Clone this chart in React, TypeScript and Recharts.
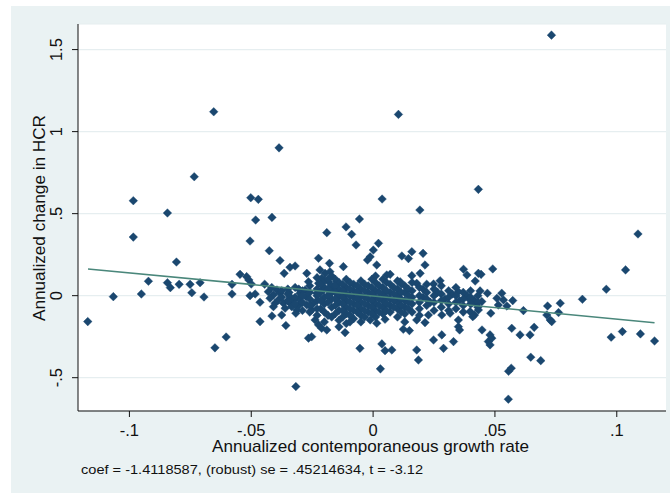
import React from 'react';
import { ScatterChart, Scatter, XAxis, YAxis, CartesianGrid, Label } from 'recharts';

// x: annualized contemporaneous growth rate, y: annualized change in HCR
const outlierPoints: [number, number][] = [
  [-0.0654, 1.121], [-0.0386, 0.901], [0.0104, 1.105], [0.0732, 1.588], [0.0432, 0.648],
  [0.0037, 0.589], [0.0192, 0.522], [-0.0056, 0.467], [-0.0734, 0.725], [-0.0984, 0.579],
  [-0.0844, 0.504], [-0.0984, 0.357], [-0.0502, 0.597], [-0.0471, 0.587], [-0.0482, 0.461],
  [-0.0415, 0.477], [-0.0505, 0.333], [-0.0426, 0.274], [-0.0317, -0.554], [0.0555, -0.631],
  [0.0556, -0.461], [0.0567, -0.442], [0.003, -0.446], [0.1087, 0.376], [0.1036, 0.157],
  [0.0957, 0.039], [0.0859, -0.022], [0.0977, -0.253], [0.1023, -0.219], [0.1097, -0.233],
  [0.1155, -0.276], [0.0688, -0.396], [0.0647, -0.375],
];

const leftPoints: [number, number][] = [
  [-0.1171, -0.158], [-0.1066, -0.006], [-0.0951, 0.010], [-0.0922, 0.088], [-0.0844, 0.079],
  [-0.0832, 0.049], [-0.0807, 0.205], [-0.0796, 0.069], [-0.0751, 0.069], [-0.0744, 0.018],
  [-0.0710, 0.079], [-0.0694, -0.008], [-0.0649, -0.318], [-0.0603, -0.252], [-0.0579, 0.069],
  [-0.0579, 0.010], [-0.0546, 0.130], [-0.0519, 0.116], [-0.0510, 0.096], [-0.0500, 0.071],
  [-0.0505, 0.000], [-0.0484, 0.010], [-0.0464, -0.040], [-0.0464, -0.158], [-0.0415, -0.124],
  [-0.0445, 0.070], [-0.0382, 0.214], [-0.0365, 0.136], [-0.0341, 0.173], [-0.0320, 0.181],
  [-0.0430, 0.024], [-0.0409, 0.004], [-0.0395, 0.035], [-0.0423, -0.016], [-0.0402, -0.046],
  [-0.0389, -0.026], [-0.0382, 0.015], [-0.0368, -0.046], [-0.0409, -0.067], [-0.0361, -0.077],
  [-0.0375, -0.118], [-0.0358, -0.182], [-0.0416, 0.050],
  [-0.0375, 0.030], [-0.0375, -0.010], [-0.0345, 0.020], [-0.0345, -0.040], [-0.0305, 0.040],
  [-0.0305, -0.020], [-0.0305, -0.060],
];

const midLeftPoints: [number, number][] = [
  [-0.0341, -0.006], [-0.0327, -0.026], [-0.0313, -0.087], [-0.0334, -0.067], [-0.0317, -0.107],
  [-0.0272, 0.136], [-0.0265, 0.085], [-0.0279, 0.035], [-0.0300, 0.015], [-0.0272, -0.057],
  [-0.0252, -0.087], [-0.0238, -0.148], [-0.0224, -0.178], [-0.0211, -0.199], [-0.0190, -0.209],
  [-0.0265, -0.259], [-0.0252, -0.250], [-0.0224, 0.228], [-0.0190, 0.384], [-0.0179, 0.197],
  [-0.0218, 0.157], [-0.0197, 0.136], [-0.0177, 0.146], [-0.0211, 0.106], [-0.0183, 0.085],
  [-0.0224, 0.075], [-0.0163, 0.055], [-0.0204, 0.035], [-0.0231, 0.015], [-0.0177, 0.015],
  [-0.0149, 0.085], [-0.0122, 0.177], [-0.0111, 0.419], [-0.0088, 0.374], [-0.0070, 0.309],
  [-0.0115, -0.225], [-0.0054, -0.321], [-0.0275, -0.006], [-0.0245, -0.046],
];

const upperMidPoints: [number, number][] = [
  [-0.0023, 0.217], [-0.0012, 0.237], [0.0001, 0.278], [0.0022, 0.319], [0.0015, 0.187],
  [0.0118, 0.242], [0.0159, 0.268], [0.0145, 0.226], [0.0205, 0.258], [0.0213, 0.187],
  [0.0193, 0.136], [0.0159, 0.122], [0.0371, 0.161], [0.0385, 0.126], [0.0432, 0.136],
  [0.0491, 0.163], [0.0419, 0.089], [0.0056, 0.126], [0.0111, 0.085], [0.0179, 0.075],
  [0.0275, 0.091], [0.0248, 0.071],
];

const lowerMidPoints: [number, number][] = [
  [0.0049, -0.144], [0.0015, -0.168], [-0.0012, -0.148], [0.0124, -0.205], [0.0149, -0.213],
  [0.0179, -0.148], [0.0213, -0.164], [0.0227, -0.118], [0.0282, -0.118], [0.0316, -0.107],
  [0.0350, -0.148], [0.0350, -0.189], [0.0248, -0.270], [0.0282, -0.239], [0.0289, -0.321],
  [0.0330, -0.280], [0.0036, -0.294], [0.0049, -0.335], [0.0077, -0.331], [0.0179, -0.331],
  [0.0186, -0.392], [0.0355, -0.209], [0.0398, -0.097], [0.0416, -0.118], [0.0447, -0.209],
  [0.0480, -0.239], [0.0473, -0.280], [0.0487, -0.259], [0.0480, -0.300], [0.0409, -0.128],
  [0.0483, -0.107], [0.0432, -0.087],
];

const rightPoints: [number, number][] = [
  [0.0443, 0.130], [0.0439, 0.029], [0.0469, 0.015], [0.0398, -0.026], [0.0405, -0.046],
  [0.0446, -0.036], [0.0508, -0.016], [0.0528, 0.015], [0.0535, -0.026], [0.0514, -0.057],
  [0.0549, -0.063], [0.0573, -0.030], [0.0617, -0.091], [0.0569, -0.199], [0.0603, -0.239],
  [0.0644, -0.239], [0.0661, -0.193], [0.0716, -0.063], [0.0713, -0.118], [0.0727, -0.148],
  [0.0733, -0.158], [0.0768, -0.046], [0.0761, -0.103], [0.0350, 0.024], [0.0426, -0.046],
  [0.0205, 0.040], [0.0205, -0.010], [0.0235, -0.040], [0.0265, 0.020], [0.0295, -0.020],
  [0.0325, 0.010], [0.0355, -0.030], [0.0385, 0.000], [0.0415, -0.030],
];

const corePoints: [number, number][] = [
  [-0.035, 0.04], [-0.035, -0.03], [-0.035, 0.01],
  [-0.032, 0.05], [-0.032, -0.01], [-0.032, -0.05],
  [-0.029, 0.03], [-0.029, 0.0], [-0.029, -0.04], [-0.029, -0.09],
  [-0.026, 0.06], [-0.026, 0.02], [-0.026, -0.02], [-0.026, -0.06], [-0.026, -0.10],
  [-0.023, 0.11], [-0.023, 0.04], [-0.023, 0.0], [-0.023, -0.03], [-0.023, -0.08], [-0.023, -0.12],
  [-0.020, 0.09], [-0.020, 0.05], [-0.020, -0.01], [-0.020, -0.05], [-0.020, -0.10], [-0.020, -0.16],
  [-0.017, 0.12], [-0.017, 0.06], [-0.017, 0.02], [-0.017, -0.02], [-0.017, -0.07], [-0.017, -0.13],
  [-0.014, 0.08], [-0.014, 0.04], [-0.014, 0.0], [-0.014, -0.04], [-0.014, -0.09], [-0.014, -0.15], [-0.014, -0.19],
  [-0.011, 0.10], [-0.011, 0.05], [-0.011, 0.01], [-0.011, -0.03], [-0.011, -0.07], [-0.011, -0.11], [-0.011, -0.17],
  [-0.008, 0.07], [-0.008, 0.03], [-0.008, -0.01], [-0.008, -0.05], [-0.008, -0.09], [-0.008, -0.14],
  [-0.005, 0.09], [-0.005, 0.04], [-0.005, 0.0], [-0.005, -0.04], [-0.005, -0.08], [-0.005, -0.12], [-0.005, -0.16],
  [-0.002, 0.06], [-0.002, 0.02], [-0.002, -0.02], [-0.002, -0.06], [-0.002, -0.10],
  [0.001, 0.12], [0.001, 0.08], [0.001, 0.03], [0.001, -0.01], [0.001, -0.05], [0.001, -0.09], [0.001, -0.13],
  [0.004, 0.10], [0.004, 0.05], [0.004, 0.01], [0.004, -0.03], [0.004, -0.07], [0.004, -0.11],
  [0.007, 0.13], [0.007, 0.07], [0.007, 0.02], [0.007, -0.02], [0.007, -0.06], [0.007, -0.10],
  [0.010, 0.09], [0.010, 0.04], [0.010, 0.0], [0.010, -0.04], [0.010, -0.08], [0.010, -0.13],
  [0.013, 0.06], [0.013, 0.02], [0.013, -0.03], [0.013, -0.07], [0.013, -0.11], [0.013, -0.16],
  [0.016, 0.08], [0.016, 0.03], [0.016, -0.01], [0.016, -0.05], [0.016, -0.10],
  [0.019, 0.05], [0.019, 0.0], [0.019, -0.04], [0.019, -0.08], [0.019, -0.12],
  [0.022, 0.07], [0.022, 0.02], [0.022, -0.02], [0.022, -0.06],
  [0.025, 0.04], [0.025, 0.0], [0.025, -0.04], [0.025, -0.09],
  [0.028, 0.06], [0.028, 0.01], [0.028, -0.03], [0.028, -0.07],
  [0.031, 0.03], [0.031, -0.01], [0.031, -0.05], [0.031, -0.09],
  [0.034, 0.05], [0.034, 0.0], [0.034, -0.04], [0.034, -0.08],
  [0.037, 0.02], [0.037, -0.02], [0.037, -0.06], [0.037, -0.10],
  [0.040, 0.03], [0.040, -0.01], [0.040, -0.05],
  [0.043, 0.0], [0.043, -0.04], [0.043, -0.07],
];

const coreFillPoints: [number, number][] = [
  [-0.0215, 0.07], [-0.0215, 0.02], [-0.0215, -0.03], [-0.0215, -0.08],
  [-0.0185, 0.10], [-0.0185, 0.04], [-0.0185, 0.0], [-0.0185, -0.04], [-0.0185, -0.12],
  [-0.0155, 0.10], [-0.0155, 0.06], [-0.0155, 0.02], [-0.0155, -0.02], [-0.0155, -0.06], [-0.0155, -0.11],
  [-0.0125, 0.07], [-0.0125, 0.03], [-0.0125, -0.01], [-0.0125, -0.05], [-0.0125, -0.09], [-0.0125, -0.13],
  [-0.0095, 0.08], [-0.0095, 0.04], [-0.0095, 0.0], [-0.0095, -0.04], [-0.0095, -0.08], [-0.0095, -0.12], [-0.0095, -0.16],
  [-0.0065, 0.06], [-0.0065, 0.02], [-0.0065, -0.02], [-0.0065, -0.06], [-0.0065, -0.10],
  [-0.0035, 0.07], [-0.0035, 0.03], [-0.0035, -0.01], [-0.0035, -0.05], [-0.0035, -0.09], [-0.0035, -0.13],
  [-0.0005, 0.10], [-0.0005, 0.05], [-0.0005, 0.01], [-0.0005, -0.03], [-0.0005, -0.07], [-0.0005, -0.11],
  [0.0025, 0.06], [0.0025, 0.02], [0.0025, -0.02], [0.0025, -0.06], [0.0025, -0.10],
  [0.0055, 0.08], [0.0055, 0.03], [0.0055, -0.01], [0.0055, -0.05], [0.0055, -0.09],
  [0.0085, 0.05], [0.0085, 0.01], [0.0085, -0.03], [0.0085, -0.07],
  [0.0115, 0.07], [0.0115, 0.02], [0.0115, -0.02], [0.0115, -0.06], [0.0115, -0.10],
  [0.0145, 0.04], [0.0145, 0.0], [0.0145, -0.04], [0.0145, -0.08],
];

const fitLineX = [-0.117, 0.1155];
const fitLineY = [0.163, -0.165];

const xTicks = [-0.1, -0.05, 0, 0.05, 0.1];
const yTicks = [-0.5, 0, 0.5, 1, 1.5];

const xTitle = 'Annualized contemporaneous growth rate';
const yTitle = 'Annualized change in HCR';
const note = 'coef = -1.4118587, (robust) se = .45214634, t = -3.12';

const toObjs = (arr: [number, number][]) => arr.map(([x, y]) => ({ x, y }));
const scatterData = [
  ...toObjs(outlierPoints),
  ...toObjs(leftPoints),
  ...toObjs(midLeftPoints),
  ...toObjs(upperMidPoints),
  ...toObjs(lowerMidPoints),
  ...toObjs(rightPoints),
  ...toObjs(corePoints),
  ...toObjs(coreFillPoints),
];
const fitData = fitLineX.map((x, i) => ({ x, y: fitLineY[i] }));

const FONT = '"Liberation Sans", Arial, sans-serif';
const NAVY = '#1a476f';

const fmt = (v: number) => {
  if (v === 0) return '0';
  const s = String(Math.abs(v)).replace(/^0/, '');
  return (v < 0 ? '-' : '') + s;
};

const Diamond = (props: any) => {
  const { cx, cy } = props;
  if (cx == null || cy == null) return <g />;
  const r = 4.3;
  return (
    <path
      d={`M${cx},${cy - r}L${cx + r},${cy}L${cx},${cy + r}L${cx - r},${cy}Z`}
      fill={NAVY}
      stroke={NAVY}
      strokeWidth={0.4}
    />
  );
};

const XTick = (props: any) => {
  const { x, payload } = props;
  return (
    <text x={x} y={436} textAnchor="middle" fontSize={16.5} fontFamily={FONT} fill="#111">
      {fmt(payload.value)}
    </text>
  );
};

const YTick = (props: any) => {
  const { y, payload } = props;
  return (
    <text
      x={62}
      y={y}
      transform={`rotate(-90, 62, ${y})`}
      textAnchor="middle"
      fontSize={16.5}
      fontFamily={FONT}
      fill="#111"
    >
      {fmt(payload.value)}
    </text>
  );
};

export default function App() {
  return (
    <div style={{ position: 'absolute', left: 0, top: 0, width: 670, height: 493, background: '#ffffff', overflow: 'hidden' }}>
      <div style={{ position: 'absolute', left: 11, top: 6, width: 659, height: 487, background: '#eaf2f3' }} />
      <div style={{ position: 'absolute', left: 0, top: 0 }}>
        <ScatterChart width={670} height={493} margin={{ top: 24, right: 4, bottom: 0, left: 0 }}>
          <CartesianGrid vertical={false} fill="#ffffff" stroke="#e6eef0" strokeWidth={1.2} />
          <XAxis
            type="number"
            dataKey="x"
            domain={[-0.1211, 0.1202]}
            ticks={xTicks}
            allowDataOverflow
            height={82}
            stroke="#111"
            tickSize={6}
            tick={<XTick />}
            interval={0}
          >
            <Label
              content={() => (
                <text x={370.5} y={452} textAnchor="middle" fontSize={17} fontFamily={FONT} fill="#111" textLength={317} lengthAdjust="spacingAndGlyphs">
                  {xTitle}
                </text>
              )}
            />
          </XAxis>
          <YAxis
            type="number"
            dataKey="y"
            domain={[-0.703, 1.656]}
            ticks={yTicks}
            allowDataOverflow
            width={78}
            stroke="#111"
            tickSize={6}
            tick={<YTick />}
            interval={0}
          >
            <Label
              content={() => (
                <text x={45} y={218} transform="rotate(-90, 45, 218)" textAnchor="middle" fontSize={17} fontFamily={FONT} fill="#111" textLength={206} lengthAdjust="spacingAndGlyphs">
                  {yTitle}
                </text>
              )}
            />
          </YAxis>
          <Scatter data={scatterData} shape={<Diamond />} isAnimationActive={false} />
          <Scatter
            data={fitData}
            line={{ stroke: '#4a877b', strokeWidth: 1.6 }}
            lineType="joint"
            shape={() => <g />}
            isAnimationActive={false}
          />
        </ScatterChart>
      </div>
      <svg style={{ position: 'absolute', left: 0, top: 0 }} width={670} height={493} pointerEvents="none">
        <text x={81} y={474} fontSize={13.5} fontFamily={FONT} fill="#111" textLength={342} lengthAdjust="spacingAndGlyphs">
          {note}
        </text>
      </svg>
    </div>
  );
}
